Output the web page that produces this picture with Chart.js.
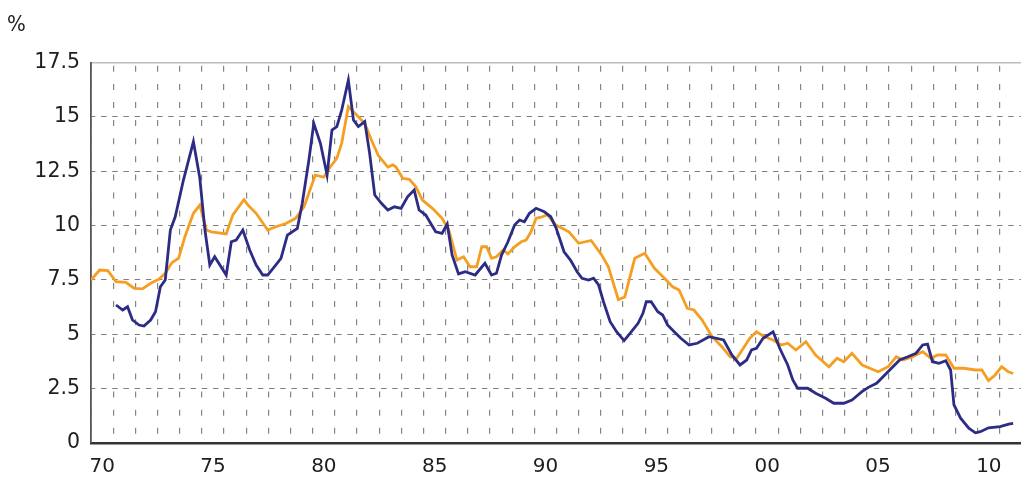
<!DOCTYPE html>
<html>
<head>
<meta charset="utf-8">
<script src="https://cdn.jsdelivr.net/npm/chart.js@4.4.1/dist/chart.umd.min.js"></script>
<style>
  html, body { margin: 0; padding: 0; background: #fff; overflow: hidden; }
  #wrap { position: absolute; left: 0; top: 0; }
</style>
</head>
<body>
<div id="wrap"><canvas id="chart" width="1034" height="477"></canvas></div>
<script>
// dark blue series (starts late 1971)
const blueYears = [
  1971.13, 1971.43, 1971.65, 1971.87, 1972.17, 1972.39, 1972.69, 1972.91, 1973.13, 1973.35,
  1973.58, 1973.80, 1974.17, 1974.62, 1974.91, 1975.14, 1975.36, 1975.58, 1976.10, 1976.33,
  1976.55, 1976.85, 1977.16, 1977.45, 1977.75, 1977.97, 1978.27, 1978.57, 1978.86, 1979.31,
  1979.53, 1979.83, 1980.05, 1980.35, 1980.65, 1980.87, 1981.09, 1981.31, 1981.61, 1981.84,
  1982.06, 1982.35, 1982.57, 1982.80, 1983.10, 1983.39, 1983.69, 1983.99, 1984.28, 1984.58,
  1984.80, 1985.10, 1985.55, 1985.84, 1986.07, 1986.29, 1986.58, 1986.88, 1987.33, 1987.77,
  1988.07, 1988.29, 1988.52, 1988.81, 1989.11, 1989.33, 1989.55, 1989.78, 1990.08, 1990.45,
  1990.74, 1990.98, 1991.34, 1991.63, 1991.93, 1992.15, 1992.45, 1992.67, 1992.90, 1993.12,
  1993.42, 1993.71, 1994.05, 1994.38, 1994.68, 1994.90, 1995.05, 1995.27, 1995.57, 1995.79,
  1996.01, 1996.31, 1996.61, 1996.98, 1997.35, 1997.88, 1998.54, 1998.91, 1999.28, 1999.58,
  1999.80, 2000.02, 2000.32, 2000.77, 2001.07, 2001.43, 2001.66, 2001.88, 2002.33, 2002.69,
  2003.14, 2003.51, 2003.96, 2004.33, 2004.78, 2005.07, 2005.44, 2005.81, 2006.11, 2006.48,
  2006.85, 2007.22, 2007.52, 2007.74, 2007.96, 2008.26, 2008.56, 2008.78, 2008.93, 2009.23,
  2009.60, 2009.90, 2010.12, 2010.49, 2011.01, 2011.40, 2011.60
];
const blueValues = [
  6.35, 6.12, 6.27, 5.66, 5.43, 5.38, 5.66, 6.04, 7.19, 7.5,
  9.8, 10.41, 12.1, 13.87, 12.18, 9.8, 8.19, 8.57, 7.73, 9.26,
  9.34, 9.8, 8.88, 8.19, 7.73, 7.73, 8.11, 8.5, 9.57, 9.88,
  11.03, 13.02, 14.71, 13.79, 12.33, 14.4, 14.56, 15.32, 16.7, 14.86,
  14.56, 14.79, 13.33, 11.41, 11.03, 10.72, 10.87, 10.8, 11.33, 11.64,
  10.72, 10.49, 9.72, 9.65, 10.08, 8.65, 7.78, 7.88, 7.73, 8.27,
  7.73, 7.81, 8.65, 9.26, 10.03, 10.26, 10.18, 10.57, 10.8, 10.64,
  10.41, 9.9, 8.8, 8.42, 7.88, 7.58, 7.5, 7.58, 7.27, 6.5,
  5.58, 5.12, 4.71, 5.12, 5.51, 5.97, 6.5, 6.5, 6.04, 5.89,
  5.43, 5.12, 4.82, 4.51, 4.59, 4.89, 4.74, 4.05, 3.59, 3.82,
  4.28, 4.36, 4.82, 5.12, 4.36, 3.59, 2.9, 2.52, 2.52, 2.29,
  2.06, 1.83, 1.83, 1.98, 2.36, 2.56, 2.75, 3.13, 3.44, 3.82,
  3.97, 4.13, 4.51, 4.55, 3.74, 3.67, 3.79, 3.36, 1.75, 1.14,
  0.68, 0.47, 0.52, 0.7, 0.75, 0.87, 0.9
];

// orange series
const orangeYears = [
  1970.00, 1970.39, 1970.76, 1971.13, 1971.57, 1971.95, 1972.32, 1972.69, 1973.06, 1973.35,
  1973.65, 1973.95, 1974.24, 1974.62, 1974.91, 1975.21, 1975.43, 1976.10, 1976.40, 1976.90,
  1977.08, 1977.45, 1977.97, 1978.34, 1978.79, 1979.23, 1979.61, 1979.83, 1980.12, 1980.50,
  1980.79, 1981.09, 1981.31, 1981.61, 1981.98, 1982.35, 1982.65, 1982.95, 1983.39, 1983.62,
  1983.76, 1984.06, 1984.36, 1984.65, 1984.95, 1985.40, 1985.84, 1986.14, 1986.51, 1986.81,
  1987.10, 1987.40, 1987.63, 1987.85, 1988.07, 1988.29, 1988.59, 1988.81, 1989.11, 1989.41,
  1989.63, 1989.85, 1990.08, 1990.37, 1990.59, 1990.97, 1991.56, 1992.00, 1992.56, 1993.04,
  1993.34, 1993.79, 1994.08, 1994.53, 1994.98, 1995.42, 1995.87, 1996.24, 1996.53, 1996.90,
  1997.20, 1997.57, 1998.02, 1998.46, 1998.83, 1999.13, 1999.43, 1999.72, 2000.02, 2000.39,
  2000.77, 2001.14, 2001.43, 2001.80, 2002.25, 2002.69, 2003.29, 2003.66, 2003.96, 2004.33,
  2004.79, 2005.51, 2005.96, 2006.33, 2006.63, 2007.07, 2007.52, 2007.89, 2008.19, 2008.56,
  2008.93, 2009.38, 2009.90, 2010.19, 2010.49, 2010.79, 2011.08, 2011.38, 2011.60
];
const orangeValues = [
  7.5, 7.96, 7.93, 7.42, 7.39, 7.12, 7.09, 7.35, 7.53, 7.81,
  8.3, 8.5, 9.5, 10.57, 10.95, 9.8, 9.72, 9.62, 10.5, 11.2,
  10.95, 10.57, 9.8, 9.95, 10.1, 10.34, 10.87, 11.5, 12.33, 12.23,
  12.7, 13.1, 13.8, 15.48, 15.1, 14.7, 13.94, 13.25, 12.7, 12.8,
  12.7, 12.18, 12.13, 11.8, 11.18, 10.8, 10.34, 9.8, 8.42, 8.57,
  8.11, 8.11, 9.03, 9.03, 8.5, 8.57, 8.88, 8.7, 9.03, 9.26,
  9.34, 9.72, 10.34, 10.41, 10.5, 10.03, 9.72, 9.19, 9.32, 8.65,
  8.11, 6.6, 6.72, 8.5, 8.73, 8.04, 7.58, 7.19, 7.04, 6.2,
  6.12, 5.66, 4.89, 4.43, 3.97, 3.9, 4.36, 4.82, 5.12, 4.89,
  4.74, 4.51, 4.59, 4.28, 4.66, 4.05, 3.51, 3.9, 3.74, 4.13,
  3.59, 3.28, 3.51, 3.97, 3.82, 3.97, 4.2, 3.9, 4.05, 4.05,
  3.44, 3.44, 3.36, 3.36, 2.87, 3.13, 3.51, 3.28, 3.2
];

const yearMin = 1970;
const yearMax = 2012;
const yTicks = [0, 2.5, 5, 7.5, 10, 12.5, 15, 17.5];
const unitLabel = '%';

const toPoints = (years, values) => years.map((yr, i) => ({ x: yr, y: values[i] }));

const ctx = document.getElementById('chart').getContext('2d');
new Chart(ctx, {
    type: 'line',
    data: {
        datasets: [
            {
                data: toPoints(blueYears, blueValues),
                borderColor: '#2d2c85',
                borderWidth: 2.8,
                pointRadius: 0,
                tension: 0,
                fill: false,
            },
            {
                data: toPoints(orangeYears, orangeValues),
                borderColor: '#f59f22',
                borderWidth: 2.8,
                pointRadius: 0,
                tension: 0,
                fill: false,
            },
        ],
    },
    options: {
        responsive: false,
        animation: false,
        layout: { padding: { left: 7, top: 0, right: 0, bottom: 0 } },
        plugins: {
            legend: { display: false },
            tooltip: { enabled: false },
            title: {
                display: true,
                text: unitLabel,
                align: 'start',
                color: '#222',
                font: { family: "'DejaVu Sans Condensed', 'DejaVu Sans'", size: 22, weight: 'normal', lineHeight: 1.1 },
                padding: { top: 13, bottom: 0 },
            },
        },
        scales: {
            x: {
                type: 'linear',
                position: 'bottom',
                min: yearMin,
                max: yearMax,
                afterFit: (scale) => { scale.height = 34; },
                ticks: {
                    stepSize: 1,
                    autoSkip: false,
                    maxRotation: 0,
                    padding: 12,
                    labelOffset: 11.2,
                    color: '#1e1e1e',
                    font: { family: "'DejaVu Sans'", size: 20 },
                    callback: (v) => (v % 5 === 0 && v < yearMax ? String(v % 100).padStart(2, '0') : ''),
                },
                grid: {
                    color: '#858585',
                    lineWidth: 1.2,
                    drawTicks: false,
                },
                border: {
                    color: '#333',
                    width: 2.4,
                    dash: [6, 12.1],
                    dashOffset: 15,
                },
            },
            xTop: {
                type: 'linear',
                position: 'top',
                min: yearMin,
                max: yearMax,
                afterFit: (scale) => { scale.height = 25.5; },
                ticks: { display: false },
                grid: { display: false, drawTicks: false },
                border: { display: true, color: '#bdbdbd', width: 1.4 },
            },
            y: {
                min: 0,
                max: 17.5,
                afterFit: (scale) => { scale.width = 84; },
                afterBuildTicks: (scale) => { scale.ticks = yTicks.map((v) => ({ value: v })); },
                ticks: {
                    padding: 11,
                    color: '#1e1e1e',
                    font: { family: "'DejaVu Sans'", size: 20.5 },
                    callback: (v) => String(v),
                },
                grid: {
                    color: (c) => (c.tick && (c.tick.value === 0 || c.tick.value === 17.5) ? 'rgba(0,0,0,0)' : '#7f7f7f'),
                    lineWidth: 1.1,
                    drawTicks: false,
                },
                border: {
                    color: '#555',
                    width: 1.8,
                    dash: [5.5, 5.7],
                    dashOffset: 2,
                },
            },
        },
    },
});
</script>
</body>
</html>
